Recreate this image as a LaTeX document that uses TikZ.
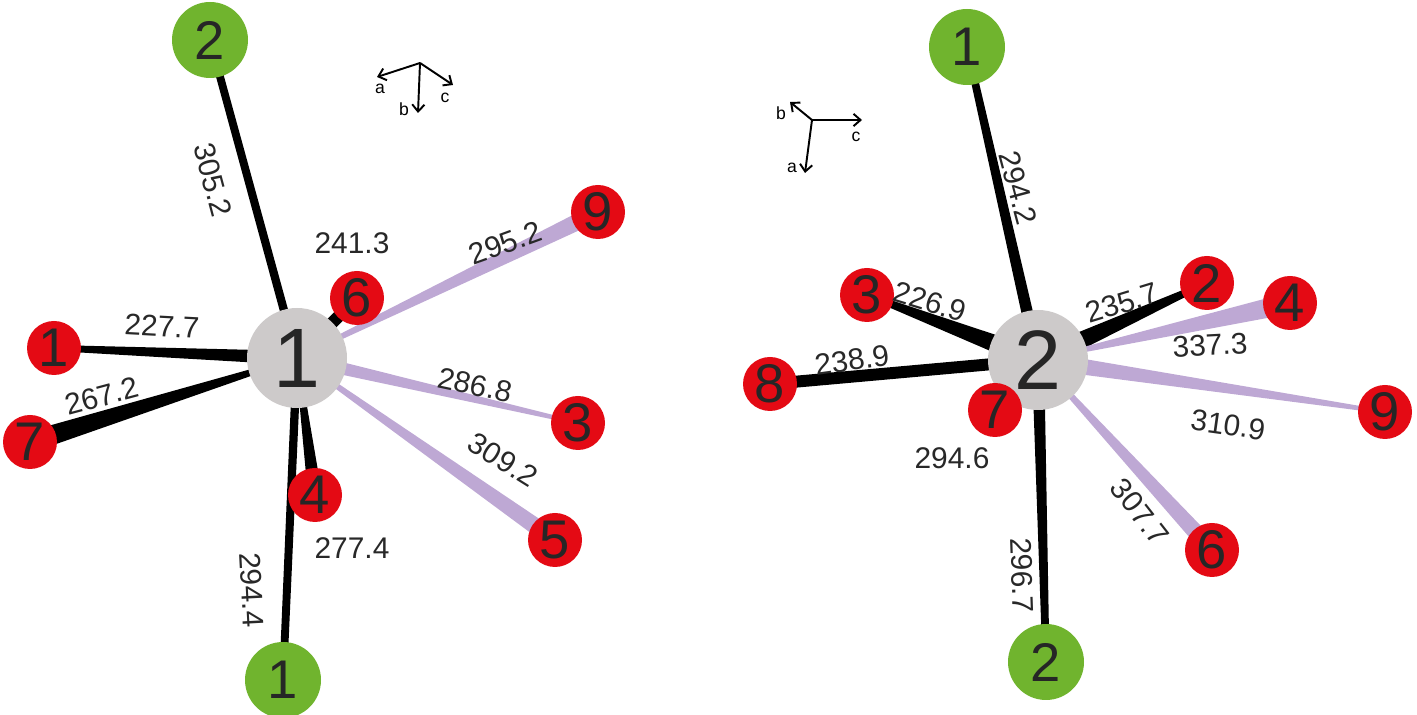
\documentclass[tikz,border=0pt]{standalone}
\usepackage{fontspec}
\setmainfont{Liberation Sans}
\usetikzlibrary{calc,arrows.meta}
\definecolor{gr}{RGB}{112,180,46}
\definecolor{rd}{RGB}{228,10,20}
\definecolor{gy}{RGB}{205,202,202}
\definecolor{pu}{RGB}{190,168,212}
\definecolor{tx}{RGB}{40,40,40}
\newcommand\wdg[5]{\fill[#5] ($(#1)!#3!90:(#2)$) -- ($(#1)!#3!-90:(#2)$) -- ($(#2)!#4!90:(#1)$) -- ($(#2)!#4!-90:(#1)$) -- cycle;}
\tikzset{
 atm/.style={circle,inner sep=0pt,minimum size=#1*0.02cm,font=\fontsize{31}{31}\selectfont,text=black!85},
 grn/.style={atm=76,fill=gr},
 red/.style={atm=54,fill=rd},
 cen/.style={atm=100,fill=gy,font=\fontsize{48}{48}\selectfont},
 lab/.style={font=\fontsize{17}{17}\selectfont,text=tx,inner sep=0pt},
 ax/.style={-{Straight Barb[length=4pt,width=7pt]},line width=1.1pt},
 axl/.style={font=\fontsize{10}{10}\selectfont,inner sep=0pt}
}
\begin{document}
\begin{tikzpicture}[x=0.02cm,y=-0.02cm]
\useasboundingbox (0,0) rectangle (1417,715);
% left coordinates
\coordinate (LC) at (297,358);
\coordinate (Lg2) at (210,40);
\coordinate (Lg1) at (283,680);
\coordinate (Lr6) at (357,298);
\coordinate (Lr9) at (598,212);
\coordinate (Lr1) at (54,348);
\coordinate (Lr7) at (30,442);
\coordinate (Lr3) at (578,423);
\coordinate (Lr5) at (555,540);
\coordinate (Lr4) at (315,495);
\wdg{LC}{Lg2}{2.4pt}{2.2pt}{black}
\wdg{LC}{Lg1}{2.4pt}{2.2pt}{black}
\wdg{LC}{Lr6}{3.5pt}{3.5pt}{black}
\wdg{LC}{Lr1}{4pt}{1.7pt}{black}
\wdg{LC}{Lr7}{1pt}{6pt}{black}
\wdg{LC}{Lr4}{1pt}{4pt}{black}
\wdg{LC}{Lr9}{1pt}{5pt}{pu}
\wdg{LC}{Lr3}{4pt}{1pt}{pu}
\wdg{LC}{Lr5}{1pt}{5pt}{pu}
\node[cen] (lc) at (LC) {1};
\node[grn] (lg2) at (Lg2) {2};
\node[grn] (lg1) at (Lg1) {1};
\node[red] (lr6) at (Lr6) {6};
\node[red] (lr9) at (Lr9) {9};
\node[red] (lr1) at (Lr1) {1};
\node[red] (lr7) at (Lr7) {7};
\node[red] (lr3) at (Lr3) {3};
\node[red] (lr5) at (Lr5) {5};
\node[red] (lr4) at (Lr4) {4};
\node[lab,rotate=-75] (l1) at (213,180) {305.2};
\node[lab] (l2) at (352,243) {241.3};
\node[lab,rotate=20] (l3) at (505,243) {295.2};
\node[lab,rotate=-3] (l4) at (162,326) {227.7};
\node[lab,rotate=15] (l5) at (102,396) {267.2};
\node[lab,rotate=-12] (l6) at (475,385) {286.8};
\node[lab,rotate=-32] (l7) at (503,460) {309.2};
\node[lab] (l8) at (352,548) {277.4};
\node[lab,rotate=-87] (l9) at (252,590) {294.4};
% left axes
\coordinate (LO) at (420,63);
\node[axl] (la) at (380,89) {a};
\node[axl] (lb) at (404,109) {b};
\node[axl] (lcx) at (445,98) {c};
\coordinate (LA) at (377,77);
\coordinate (LB) at (418,113);
\coordinate (LCc) at (453,85);
\draw[ax] (LO) -- (LA);
\draw[ax] (LO) -- (LB);
\draw[ax] (LO) -- (LCc);
% right
\coordinate (RC) at (1038,360);
\coordinate (Rg1) at (967,47);
\coordinate (Rg2) at (1046,662);
\coordinate (Rr3) at (867,295);
\coordinate (Rr8) at (770,384);
\coordinate (Rr7) at (995,410);
\coordinate (Rr2) at (1207,283);
\coordinate (Rr4) at (1290,303);
\coordinate (Rr9) at (1385,412);
\coordinate (Rr6) at (1212,550);
\wdg{RC}{Rg1}{3.5pt}{2pt}{black}
\wdg{RC}{Rg2}{3.5pt}{2pt}{black}
\wdg{RC}{Rr3}{6pt}{1.5pt}{black}
\wdg{RC}{Rr8}{3.4pt}{3.4pt}{black}
\wdg{RC}{Rr7}{2pt}{2pt}{black}
\wdg{RC}{Rr2}{6pt}{1.5pt}{black}
\wdg{RC}{Rr4}{0.5pt}{6pt}{pu}
\wdg{RC}{Rr9}{5pt}{1pt}{pu}
\wdg{RC}{Rr6}{1pt}{5pt}{pu}
\node[cen] (rc) at (RC) {2};
\node[grn] (rg1) at (Rg1) {1};
\node[grn] (rg2) at (Rg2) {2};
\node[red] (rr3) at (Rr3) {3};
\node[red] (rr8) at (Rr8) {8};
\node[red] (rr7) at (Rr7) {7};
\node[red] (rr2) at (Rr2) {2};
\node[red] (rr4) at (Rr4) {4};
\node[red] (rr9) at (Rr9) {9};
\node[red] (rr6) at (Rr6) {6};
\node[lab,rotate=-75] (m1) at (1018,188) {294.2};
\node[lab,rotate=-17] (m2) at (930,302) {226.9};
\node[lab,rotate=17] (m3) at (1122,303) {235.7};
\node[lab,rotate=8] (m4) at (852,360) {238.9};
\node[lab,rotate=3] (m5) at (1210,345) {337.3};
\node[lab,rotate=-8] (m6) at (1228,425) {310.9};
\node[lab] (m7) at (952,458) {294.6};
\node[lab,rotate=-52] (m8) at (1140,512) {307.7};
\node[lab,rotate=-88] (m9) at (1022,575) {296.7};
% right axes
\coordinate (RO) at (812,120);
\coordinate (RB) at (790,102);
\coordinate (RCc) at (862,120);
\coordinate (RA) at (805,173);
\node[axl] (rb) at (781,113) {b};
\node[axl] (rcx) at (856,137) {c};
\node[axl] (ra) at (792,168) {a};
\draw[ax] (RO) -- (RB);
\draw[ax] (RO) -- (RCc);
\draw[ax] (RO) -- (RA);
\end{tikzpicture}
\end{document}
